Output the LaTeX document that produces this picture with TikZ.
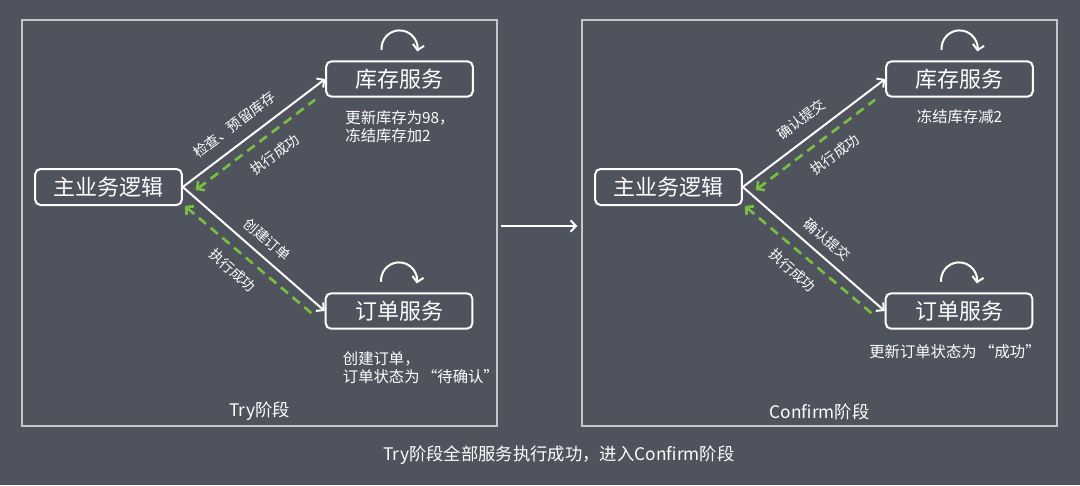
\documentclass[tikz,border=0pt]{standalone}
\usepackage{fontspec}
\setmainfont{Noto Sans CJK SC}
\usetikzlibrary{arrows.meta}

\definecolor{panelbg}{RGB}{79,83,94}
\definecolor{framegray}{RGB}{196,198,204}
\definecolor{okgreen}{RGB}{122,190,62}

\tikzset{
  svcbox/.style={draw=white, line width=1.5pt, rounded corners=4pt, text=white,
    minimum width=110pt, minimum height=26.5pt, inner sep=0pt,
    font=\fontsize{16.5}{18}\selectfont},
  phasebox/.style={draw=framegray, line width=1pt, minimum width=356.25pt,
    minimum height=304.5pt, inner sep=0pt},
  call/.style={draw=white, line width=1.5pt, -{Straight Barb[length=4pt,width=8.5pt]}},
  reply/.style={draw=okgreen, line width=2pt, dash pattern=on 7pt off 4.5pt,
    {Straight Barb[length=4pt,width=8.5pt]}-},
  selfloop/.style={draw=white, line width=1.5pt, -{Straight Barb[length=4pt,width=8.5pt]}},
  lbl/.style={text=white, font=\fontsize{10.5}{12}\selectfont, sloped},
  note/.style={text=white, font=\fontsize{11.5}{13.5}\selectfont, inner sep=0pt},
}

\begin{document}
\begin{tikzpicture}[x=0.75pt,y=0.75pt]
    % Background
    \fill[panelbg] (0,0) rectangle (1080,-485);

    % The two phases
    \foreach \ox/\p/\phase/\askA/\askB/\posA in {0/t/Try阶段/检查、预留库存/创建订单/0.44,
                                                 560/c/Confirm阶段/确认提交/确认提交/0.49} {
        \node[phasebox] (frame\p) at (259.5+\ox,-223) {};
        \node[text=white, font=\fontsize{13}{15}\selectfont] (phase\p)
            at ([yshift=11.25pt]frame\p.south) {\phase};

        % Services
        \node[svcbox, minimum height=27pt] (main\p) at (108.5+\ox,-187) {主业务逻辑};
        \node[svcbox] (inv\p) at (399.5+\ox,-79) {库存服务};
        \node[svcbox] (ord\p) at (399+\ox,-311) {订单服务};

        % Local work of each service
        \draw[selfloop] ([xshift=-13.4pt,yshift=7.8pt]inv\p.north)
            arc[start angle=185, end angle=-10, radius=13.5pt];
        \draw[selfloop] ([xshift=-13.4pt,yshift=7.8pt]ord\p.north)
            arc[start angle=185, end angle=-10, radius=13.5pt];

        % Calls
        \draw[call] (main\p.east) --
            node[lbl, above=5pt, pos=\posA] (askA\p) {\askA}
            node[lbl, below=13.5pt, pos=0.52] (okA\p) {执行成功} (inv\p.west);
        \draw[call] (main\p.east) --
            node[lbl, above=3pt, pos=0.52] (askB\p) {\askB}
            node[lbl, below=13.5pt, pos=0.49] (okB\p) {执行成功} (ord\p.west);

        % Replies
        \draw[reply] ([xshift=9.75pt,yshift=-2.25pt]main\p.east) --
            ([xshift=-7.5pt,yshift=-1.5pt]inv\p.south west);
        \draw[reply] ([xshift=1.5pt]main\p.south east) --
            ([xshift=-8.25pt,yshift=-3pt]ord\p.west);
    }

    % Notes under the services
    \node[note, anchor=west, align=left] (invnotet)
        at ([xshift=15pt,yshift=-21.75pt]invt.south west) {更新库存为98，\\冻结库存加2};
    \node[note, anchor=west, align=left] (ordnotet)
        at ([xshift=13.5pt,yshift=-28.5pt]ordt.south west) {创建订单，\\订单状态为\,“待确认”};
    \node[note] (invnotec) at ([yshift=-14.25pt]invc.south) {冻结库存减2};
    \node[note] (ordnotec) at ([xshift=-3pt,yshift=-16.5pt]ordc.south) {更新订单状态为\,“成功”};

    % Try -> Confirm
    \draw[call, shorten <=2.25pt, shorten >=3pt]
        ([yshift=-2.25pt]framet.east) -- ([yshift=-2.25pt]framec.west);
    \node[text=white, font=\fontsize{13}{15}\selectfont] (summary)
        at (559,-455) {Try阶段全部服务执行成功，进入Confirm阶段};
\end{tikzpicture}
\end{document}
